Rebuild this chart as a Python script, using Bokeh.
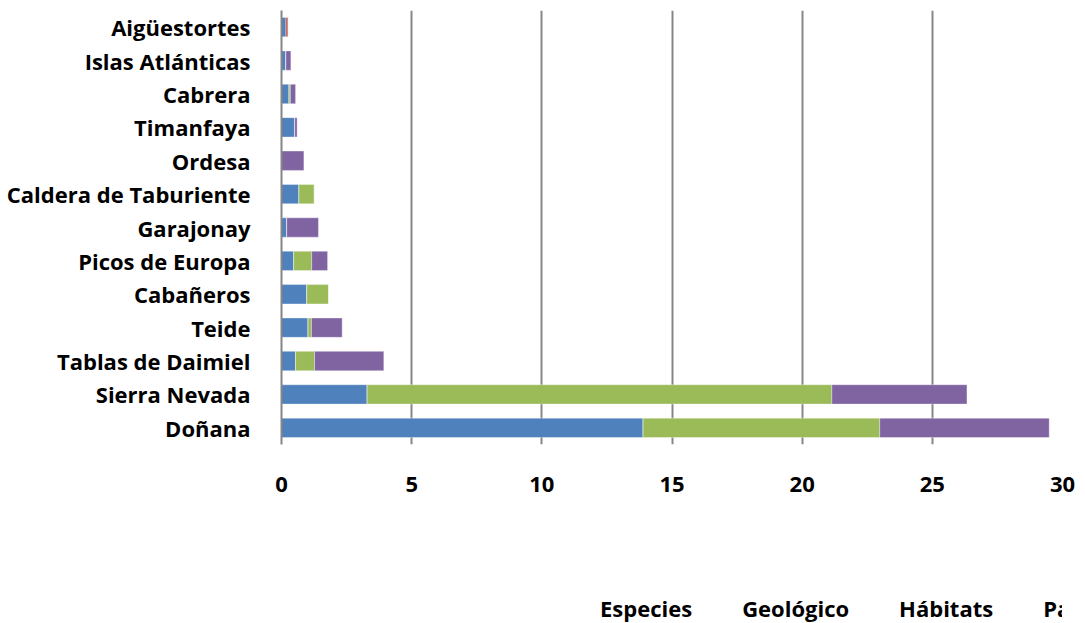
from bokeh.plotting import figure
from bokeh.layouts import column
from bokeh.models import (ColumnDataSource, FactorRange, Range1d, Legend, LegendItem,
                          Label, FixedTicker)
from bokeh.embed import file_html
from bokeh.resources import INLINE

parques = ["Doñana", "Sierra Nevada", "Tablas de Daimiel", "Teide", "Cabañeros",
           "Picos de Europa", "Garajonay", "Caldera de Taburiente", "Ordesa",
           "Timanfaya", "Cabrera", "Islas Atlánticas", "Aigüestortes"]
especies  = [13.89, 3.29, 0.54, 1.02, 0.97, 0.47, 0.20, 0.67, 0.00, 0.51, 0.29, 0.17, 0.17]
geologico = [0.00, 0.00, 0.00, 0.00, 0.00, 0.00, 0.00, 0.00, 0.00, 0.00, 0.00, 0.00, 0.09]
habitats  = [9.09, 17.85, 0.73, 0.13, 0.84, 0.69, 0.00, 0.59, 0.00, 0.00, 0.05, 0.00, 0.00]
paisaje   = [6.51, 5.19, 2.66, 1.18, 0.00, 0.61, 1.22, 0.00, 0.86, 0.09, 0.20, 0.19, 0.00]
series = ["Especies", "Geológico", "Hábitats", "Paisaje"]
colors = ["#4F81BD", "#C0504D", "#9BBB59", "#8064A2"]
x_ticks = [0, 5, 10, 15, 20, 25, 30]

src = ColumnDataSource(dict(parque=parques, Especies=especies, Geológico=geologico,
                            Hábitats=habitats, Paisaje=paisaje))

FONT = "Open Sans"
FS = "22px"
W = 1085
H1, H2 = 510, 113

# main chart
p = figure(width=W, height=H1, y_range=FactorRange(*parques), x_range=Range1d(0, 30),
           output_backend="svg", toolbar_location=None,
           min_border_left=281, min_border_right=W - 1062, min_border_top=10,
           min_border_bottom=H1 - 444)
p.outline_line_color = None

p.hbar_stack(series, y="parque", height=0.58, color=colors, source=src,
             line_color="white", line_width=0.6, line_alpha=0.6)

p.xgrid.ticker = FixedTicker(ticks=x_ticks)
p.xgrid.grid_line_color = "#868686"
p.xgrid.grid_line_width = 2
p.ygrid.grid_line_color = None

p.xaxis.ticker = FixedTicker(ticks=x_ticks)
p.xaxis.axis_line_color = None
p.xaxis.major_tick_line_color = None
p.xaxis.minor_tick_line_color = None
p.xaxis.major_tick_out = 0
p.xaxis.major_tick_in = 0
p.xaxis.major_label_standoff = 32
p.xaxis.major_label_text_font = FONT
p.xaxis.major_label_text_font_style = "bold"
p.xaxis.major_label_text_font_size = FS
p.xaxis.major_label_text_color = "black"

p.yaxis.axis_line_color = "#868686"
p.yaxis.axis_line_width = 2
p.yaxis.major_tick_line_color = None
p.yaxis.minor_tick_line_color = None
p.yaxis.major_label_standoff = 25
p.yaxis.major_label_text_font = FONT
p.yaxis.major_label_text_font_style = "bold"
p.yaxis.major_label_text_font_size = FS
p.yaxis.major_label_text_color = "black"

# strip below: axis unit label and legend
p2 = figure(width=W, height=H2, x_range=Range1d(0, 1), y_range=Range1d(0, 1),
            output_backend="svg", toolbar_location=None,
            x_axis_location=None, y_axis_location=None,
            min_border_left=0, min_border_right=0, min_border_top=0, min_border_bottom=0)
p2.outline_line_color = None
p2.grid.visible = False

key_renderers = [p2.hbar(y=[], right=[], height=0.5, fill_color=c, line_color=c)
                 for c in colors]

p2.add_layout(Label(x=1055, y=623 - 540, x_units="screen", y_units="screen",
                    text="Millones €", text_font=FONT, text_font_style="bold",
                    text_font_size=FS, text_align="right", text_baseline="middle",
                    text_color="black"))

items = [LegendItem(label=s, renderers=[r]) for s, r in zip(series, key_renderers)]
legend = Legend(items=items, orientation="horizontal", location=(299, 0),
                glyph_width=14, glyph_height=14, label_standoff=6, spacing=30,
                label_text_font=FONT, label_text_font_style="bold", label_text_font_size=FS,
                label_text_color="black", background_fill_alpha=0, border_line_color=None,
                padding=0, margin=0)
p2.add_layout(legend, "center")

layout = column(p, p2, spacing=0)
open("out.html", "w").write(file_html(layout, INLINE))
